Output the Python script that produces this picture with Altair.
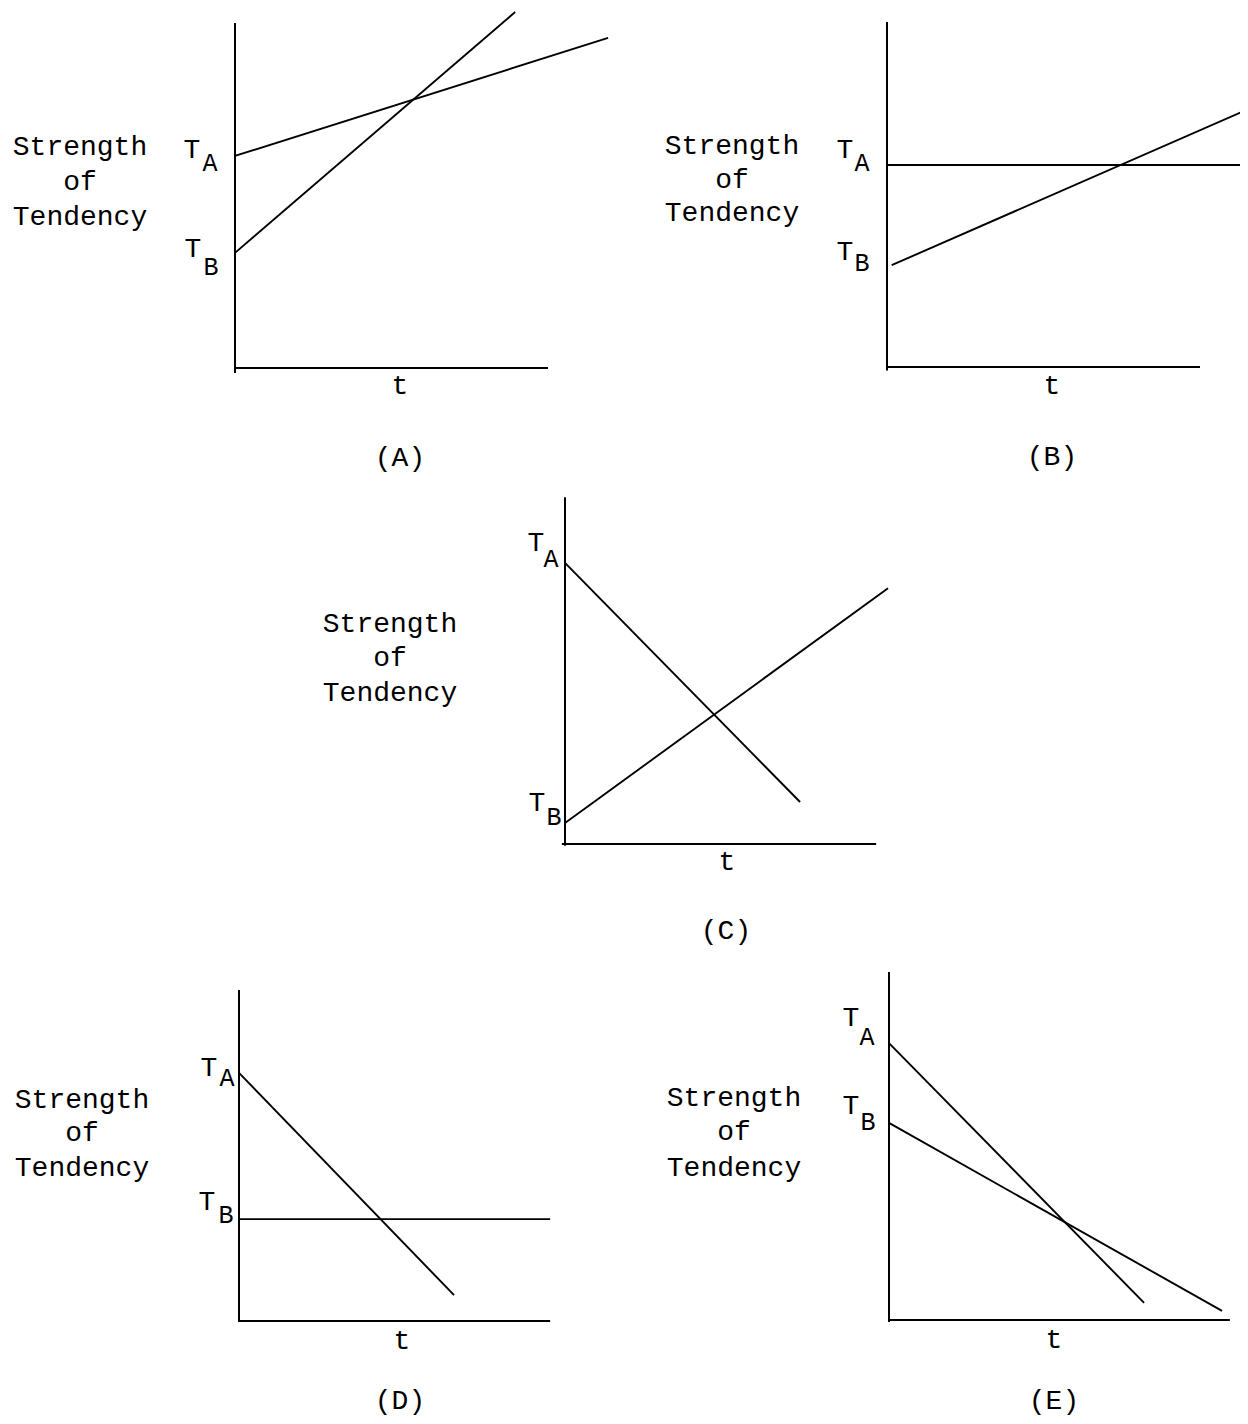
import altair as alt
import pandas as pd

# ---------------- data (t in units of ~1/10 of the t-axis, strength in units of ~1/10 of the strength axis)
panel_names = ["A", "B", "C", "D", "E"]
captions = ["(A)", "(B)", "(C)", "(D)", "(E)"]
y_title_lines = ["Strength", "of", "Tendency"]
x_title = "t"

# T_A line: start (t, strength) -> end (t, strength)
ta_t0 = [0.0, 0.0, 0.0, 0.0, 0.0]
ta_s0 = [6.06, 5.77, 8.03, 7.09, 7.91]
ta_t1 = [11.92, 11.60, 7.51, 6.87, 8.15]
ta_s1 = [9.43, 5.77, 1.20, 0.74, 0.49]

# T_B line: start (t, strength) -> end (t, strength)
tb_t0 = [0.0, 0.15, 0.0, 0.0, 0.0]
tb_s0 = [3.29, 2.91, 0.60, 2.91, 5.63]
tb_t1 = [8.95, 11.47, 10.32, 9.94, 10.64]
tb_s1 = [10.17, 7.34, 7.31, 2.91, 0.26]

# axis extents
t_axis_lo = [0.0, 0.0, -0.10, 0.0, 0.0]
t_axis_hi = [10.0, 10.0, 9.94, 9.94, 10.89]
s_axis_lo = [-0.14, -0.10, -0.05, -0.03, -0.06]
s_axis_hi = [9.86, 9.86, 9.91, 9.46, 9.94]

# ---------------- layout (page pixels)
PX_T, PX_S = 31.3, 35.0
FONT = "Liberation Mono"
region = {  # x0, y0, width, height of each panel on the page
    "A": (8, 8, 616, 472),
    "B": (624, 8, 616, 472),
    "C": (8, 480, 1232, 480),
    "D": (8, 960, 616, 456),
    "E": (624, 960, 616, 456),
}
origin = {  # where t = 0, strength = 0 sits on the page
    "A": (235, 368),
    "B": (887, 367),
    "C": (565, 844),
    "D": (239, 1321),
    "E": (889, 1320),
}
labels = {
    "A": dict(title=(80, [147, 182, 217]), t=(400, 386), cap=(400, 458),
              TA=((192, 150), (210, 163)), TB=((193, 249), (211, 267))),
    "B": dict(title=(732, [146, 180, 213]), t=(1052, 386), cap=(1052, 457),
              TA=((845, 150), (862, 163)), TB=((845, 252), (862, 263))),
    "C": dict(title=(390, [624, 658, 693]), t=(727, 862), cap=(726, 931),
              TA=((536, 543), (551, 559)), TB=((537, 803), (554, 817))),
    "D": dict(title=(82, [1100, 1133, 1168]), t=(402, 1341), cap=(400, 1401),
              TA=((209, 1068), (227, 1078)), TB=((207, 1202), (226, 1215))),
    "E": dict(title=(734, [1098, 1132, 1168]), t=(1054, 1340), cap=(1054, 1401),
              TA=((851, 1018), (867, 1037)), TB=((851, 1106), (868, 1122))),
}


def text_layer(txt, px, py, size):
    return alt.Chart(pd.DataFrame({"k": [0]})).mark_text(
        text=txt, font=FONT, fontSize=size, color="black",
        align="center", baseline="middle",
    ).encode(x=alt.value(px), y=alt.value(py))


def panel(i):
    name = panel_names[i]
    X0, Y0, W, H = region[name]
    ox, oy = origin[name]
    xs = alt.Scale(domain=[(X0 - ox) / PX_T, (X0 + W - ox) / PX_T], nice=False, zero=False)
    ys = alt.Scale(domain=[(oy - (Y0 + H)) / PX_S, (oy - Y0) / PX_S], nice=False, zero=False)

    lines_df = pd.DataFrame({
        "series": ["TA", "TA", "TB", "TB"],
        "t": [ta_t0[i], ta_t1[i], tb_t0[i], tb_t1[i]],
        "s": [ta_s0[i], ta_s1[i], tb_s0[i], tb_s1[i]],
    })
    lines = alt.Chart(lines_df).mark_line(color="black", strokeWidth=1.9, clip=True).encode(
        x=alt.X("t:Q", scale=xs, axis=None),
        y=alt.Y("s:Q", scale=ys, axis=None),
        detail="series:N",
    )
    axes_df = pd.DataFrame({
        "t": [t_axis_lo[i], 0.0], "t2": [t_axis_hi[i], 0.0],
        "s": [0.0, s_axis_lo[i]], "s2": [0.0, s_axis_hi[i]],
    })
    axes = alt.Chart(axes_df).mark_rule(color="black", strokeWidth=2).encode(
        x=alt.X("t:Q", scale=xs, axis=None), x2="t2:Q",
        y=alt.Y("s:Q", scale=ys, axis=None), y2="s2:Q",
    )

    lb = labels[name]
    layers = [axes, lines]
    tx, tys = lb["title"]
    for line_txt, ty in zip(y_title_lines, tys):
        layers.append(text_layer(line_txt, tx - X0, ty - Y0, 28))
    layers.append(text_layer(x_title, lb["t"][0] - X0, lb["t"][1] - Y0, 28))
    layers.append(text_layer(captions[i], lb["cap"][0] - X0, lb["cap"][1] - Y0, 28))
    for key, sub in (("TA", "A"), ("TB", "B")):
        (tpx, tpy), (spx, spy) = lb[key]
        layers.append(text_layer("T", tpx - X0, tpy - Y0, 28))
        layers.append(text_layer(sub, spx - X0, spy - Y0, 25))
    return alt.layer(*layers).properties(width=W, height=H)


pA, pB, pC, pD, pE = [panel(i) for i in range(5)]
row1 = alt.hconcat(pA, pB, spacing=0).resolve_scale(x="independent", y="independent")
row3 = alt.hconcat(pD, pE, spacing=0).resolve_scale(x="independent", y="independent")
chart = (
    alt.vconcat(row1, pC, row3, spacing=0)
    .resolve_scale(x="independent", y="independent")
    .properties(padding=0, background="white")
    .configure_view(strokeWidth=0)
)
chart.save("out.html", embed_options={"renderer": "svg", "actions": False})
